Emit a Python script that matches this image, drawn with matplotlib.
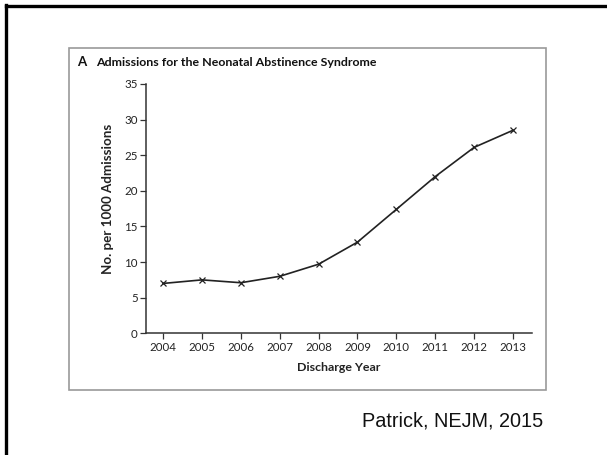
#!/usr/bin/env python3
"""NAS admissions per 1000 NICU admissions, 2004-2013 (Patrick, NEJM 2015) on a slide frame."""
import matplotlib

matplotlib.use("Agg")
import matplotlib.pyplot as plt
from matplotlib.lines import Line2D
from matplotlib.patches import Rectangle

YEARS = [2004, 2005, 2006, 2007, 2008, 2009, 2010, 2011, 2012, 2013]
RATE = [7.0, 7.5, 7.1, 8.0, 9.7, 12.8, 17.4, 22.0, 26.1, 28.5]
Y_TICKS = [0, 5, 10, 15, 20, 25, 30, 35]

W, H = 607, 455
FONT = "Lato"


def fx(px):
    return px / W


def fy(py):
    return 1 - py / H


def main():
    fig = plt.figure(figsize=(W / 100, H / 100), dpi=100)
    fig.patch.set_facecolor("white")

    # slide frame (top and left edges visible)
    fig.add_artist(Line2D([fx(6), 1.0], [fy(5.5), fy(5.5)], color="black", lw=2.4,
                          transform=fig.transFigure))
    fig.add_artist(Line2D([fx(6), fx(6)], [fy(4.5), 0.0], color="black", lw=2.4,
                          transform=fig.transFigure))
    # panel box
    fig.add_artist(Rectangle((fx(69), fy(389.5)), fx(546) - fx(69), fy(48) - fy(389.5),
                             fill=False, edgecolor="#9a9a9a", lw=1.2,
                             transform=fig.transFigure))

    ax = fig.add_axes([fx(146), fy(333.3), fx(532) - fx(146), fy(84) - fy(333.3)])
    ax.plot(YEARS, RATE, "-", color="#222222", lw=1.2, marker="x", ms=4.5, mew=0.9)
    ax.set_xlim(2003.56, 2013.49)
    ax.set_ylim(0, 35)
    ax.set_xticks(YEARS)
    ax.set_yticks(Y_TICKS)
    ax.set_xticklabels([str(y) for y in YEARS], fontsize=8.3, family=FONT, color="#222222")
    ax.set_yticklabels([str(v) for v in Y_TICKS], fontsize=8.3, family=FONT, color="#222222")
    for s in ("top", "right"):
        ax.spines[s].set_visible(False)
    for s in ("left", "bottom"):
        ax.spines[s].set_color("#333333")
        ax.spines[s].set_linewidth(1.1)
    ax.tick_params(axis="both", direction="out", length=4.5, width=0.9, color="#333333", pad=1.5)

    ax.set_xlabel("Discharge Year", fontsize=8.9, fontweight="bold", family=FONT,
                  color="#222222", labelpad=7)
    ax.set_ylabel("No. per 1000 Admissions", fontsize=9.6, fontweight="bold", family=FONT,
                  color="#222222", va="center")
    ax.yaxis.set_label_coords(-0.098, 0.541)

    fig.text(fx(77), fy(62), "A", fontsize=9.5, fontweight="bold", family=FONT,
             va="center", ha="left", color="#111111")
    fig.text(fx(96), fy(62), "Admissions for the Neonatal Abstinence Syndrome", fontsize=8.9,
             fontweight="bold", family=FONT, va="center", ha="left", color="#111111")

    fig.text(fx(543), fy(421), "Patrick, NEJM, 2015", fontsize=14.3,
             family="Liberation Sans", va="center", ha="right", color="#111111")

    fig.savefig("out.png", dpi=100)


if __name__ == "__main__":
    main()
